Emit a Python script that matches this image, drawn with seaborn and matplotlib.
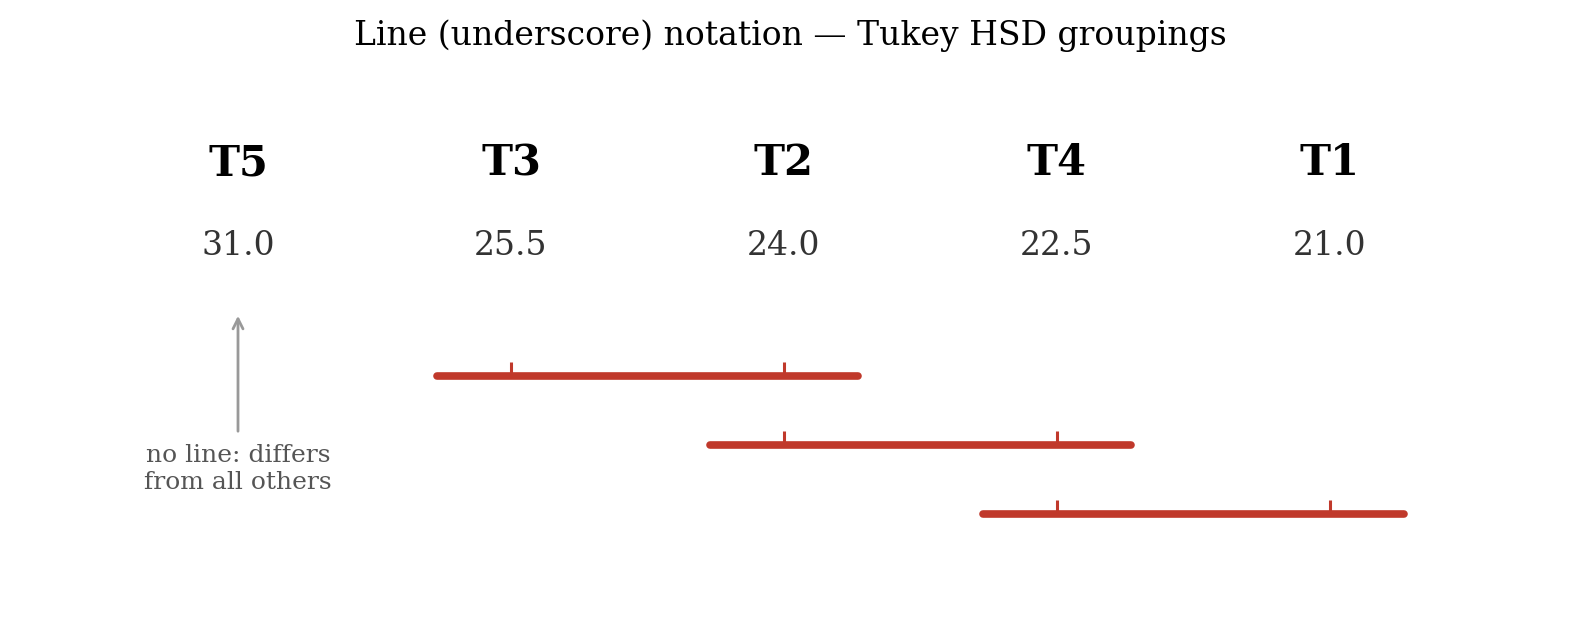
import matplotlib
matplotlib.use("Agg")
import matplotlib.pyplot as plt
import seaborn as sns
import pandas as pd

treatments = ["T5", "T3", "T2", "T4", "T1"]
means = [31.0, 25.5, 24.0, 22.5, 21.0]
groups = [["T3", "T2"], ["T2", "T4"], ["T4", "T1"]]
title = "Line (underscore) notation \u2014 Tukey HSD groupings"
note = "no line: differs\nfrom all others"

sns.set_theme(style="white")
plt.rcParams["font.family"] = ["DejaVu Serif", "DejaVu Sans"]

RED = "#c0392b"
fig = plt.figure(figsize=(15.8, 6.19), dpi=100)
ax = fig.add_axes([0, 0, 1, 1])
ax.set_xlim(-238 / 273, (1580 - 238) / 273)
ax.set_ylim(619, 0)
ax.axis("off")

pos = {t: i for i, t in enumerate(treatments)}

for t, m in zip(treatments, means):
    ax.text(pos[t], 163, t, ha="center", va="center", fontsize=30,
            fontweight="bold", color="black")
    ax.text(pos[t], 246, f"{m:.1f}", ha="center", va="center", fontsize=23.8,
            color="#333333")

pad = 0.272
rows = []
for r, g in enumerate(groups):
    y = 376 + 69 * r
    xs = [pos[t] for t in g]
    ax.plot([min(xs) - pad, max(xs) + pad], [y, y], color=RED, lw=5.5,
            solid_capstyle="round", zorder=2)
    for t in g:
        rows.append({"x": pos[t], "y": y})

tick_df = pd.DataFrame(rows)
ax.vlines(tick_df["x"], tick_df["y"] - 14, tick_df["y"], color=RED, lw=2.2, zorder=3)

# unmatched treatment annotation
ax.annotate("", xy=(pos["T5"], 313), xytext=(pos["T5"], 434),
            arrowprops=dict(arrowstyle="->", color="#999999", lw=2,
                            mutation_scale=18))
ax.text(pos["T5"], 469, note, ha="center", va="center", fontsize=18,
        color="#555555", linespacing=1.2)

fig.text(0.5, 1 - 36 / 619, title, ha="center", va="center", fontsize=23.8,
         color="black")

fig.savefig("out.png", dpi=100)
